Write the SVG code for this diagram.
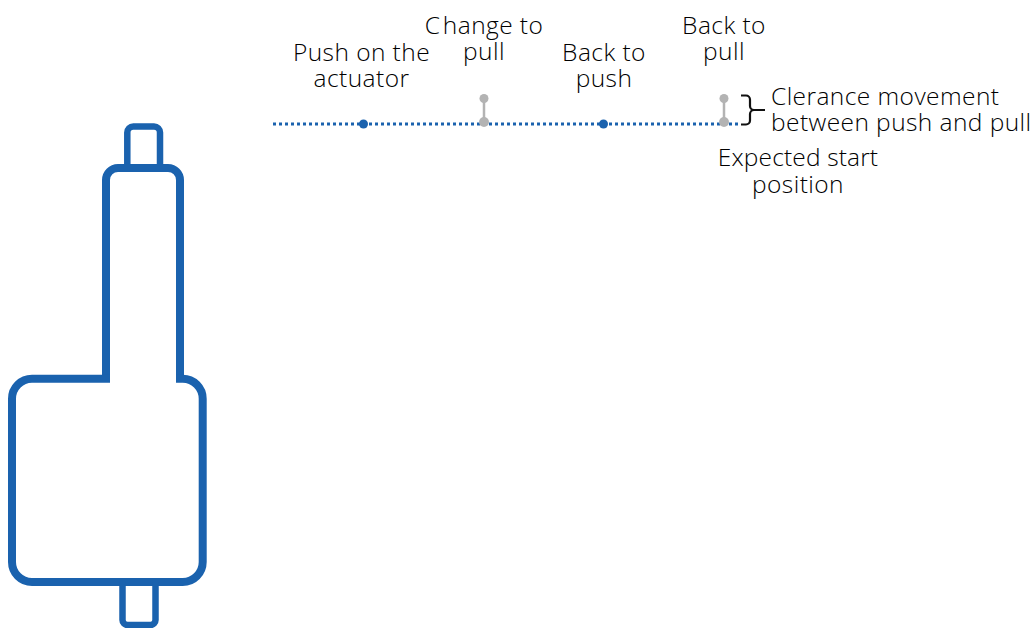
<svg xmlns="http://www.w3.org/2000/svg" width="1035" height="628" viewBox="0 0 1035 628">
<style>
.o{fill:none;stroke:#1a62ae;stroke-linejoin:miter}
.t{font-family:"Open Sans","Noto Sans",sans-serif;font-size:24.500px;font-weight:300;letter-spacing:.43px;fill:#000;text-anchor:middle}
.s{text-anchor:start}
.b{fill:#1a62ae}
.g{fill:#b3b3b3}
</style>
<rect width="1035" height="628" fill="#fff"/>
<g id="actuator">
<path class="o" stroke-width="6.500" d="M127.300 168V132.500a6 6 0 0 1 6-6H154a6 6 0 0 1 6 6V168"/>
<path class="o" stroke-width="8" d="M106 379V180a12 12 0 0 1 12-12H168a12 12 0 0 1 12 12V379"/>
<path class="o" stroke-width="8" d="M110 378.700H32a20 20 0 0 0-20 20V562a20 20 0 0 0 20 20H182.700a20 20 0 0 0 20-20V398.700a20 20 0 0 0-20-20H176"/>
<path class="o" stroke-width="6.500" d="M122.500 582V620a5 5 0 0 0 5 5H150.500a5 5 0 0 0 5-5V582"/>
</g>
<g id="connectors">
<line x1="273" y1="124" x2="741" y2="124" stroke="#1a62ae" stroke-width="3" stroke-dasharray="3 3"/>
<line x1="484" y1="98.500" x2="484" y2="122" stroke="#b3b3b3" stroke-width="2.500"/>
<line x1="724" y1="98.500" x2="724" y2="122" stroke="#b3b3b3" stroke-width="2.500"/>
<path d="M741 95.500H746a4 4 0 0 1 4 4V106a4 4 0 0 0 4 4H765H754a4 4 0 0 0-4 4V120.500a4 4 0 0 1-4 4H741" fill="none" stroke="#111" stroke-width="2.200"/>
</g>
<g id="push-1"><circle class="b" cx="363.500" cy="124" r="4.500"/><text class="t" x="361.500" y="61">Push on the</text><text class="t" x="361.500" y="87">actuator</text></g>
<g id="pull-1"><circle class="g" cx="484" cy="98.500" r="4.500"/><circle class="g" cx="484" cy="122" r="5"/><text class="t" x="484" y="34">C<tspan dx="2.500">hange to</tspan></text><text class="t" x="484" y="60">pull</text></g>
<g id="push-2"><circle class="b" cx="603.500" cy="124" r="4.500"/><text class="t" x="604" y="61">Back to</text><text class="t" x="604" y="87">push</text></g>
<g id="pull-2"><circle class="g" cx="724" cy="98.500" r="4.500"/><circle class="g" cx="724" cy="122" r="5"/><text class="t" x="724" y="34">Back to</text><text class="t" x="724" y="60">pull</text></g>
<g id="clearance-label"><text class="t s" x="771" y="105">Clerance movement</text><text class="t s" x="771" y="131">between push and pull</text></g>
<g id="start-label"><text class="t" x="798" y="166" style="letter-spacing:.15px">Expected start</text><text class="t" x="798" y="193">position</text></g>
</svg>
